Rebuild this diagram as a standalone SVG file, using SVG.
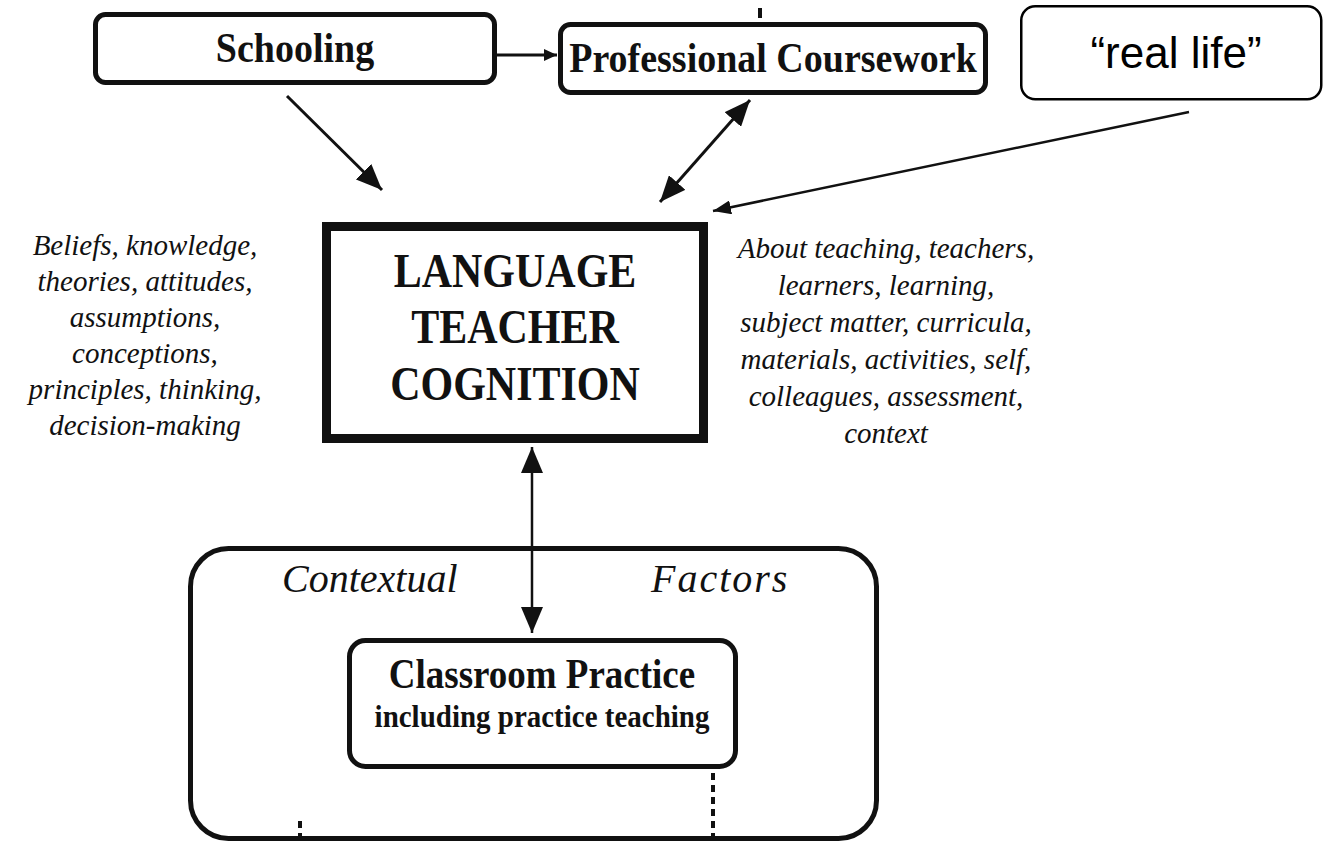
<svg xmlns="http://www.w3.org/2000/svg" width="1324" height="845" viewBox="0 0 1324 845">
<style>
.box{fill:#fff;stroke:#111;stroke-width:5}
.frame{fill:none;stroke:#111;stroke-width:5}
.bt{font-family:"Liberation Serif","Times New Roman",serif;font-weight:bold;fill:#111;text-anchor:middle}
.it{font-family:"Liberation Serif","Times New Roman",serif;font-style:italic;fill:#111;font-size:29px;text-anchor:middle}
.ln{stroke:#111;stroke-width:3;fill:none}
</style>
<defs>
<marker id="big" markerUnits="userSpaceOnUse" markerWidth="26" markerHeight="22" refX="26" refY="11" orient="auto-start-reverse" viewBox="0 0 26 22">
<path d="M0,0 L26,11 L0,22 z" fill="#111"/>
</marker>
<marker id="mid" markerUnits="userSpaceOnUse" markerWidth="18" markerHeight="14" refX="18" refY="7" orient="auto-start-reverse" viewBox="0 0 18 14">
<path d="M0,0 L18,7 L0,14 z" fill="#111"/>
</marker>
<marker id="sm" markerUnits="userSpaceOnUse" markerWidth="13" markerHeight="12" refX="13" refY="6" orient="auto" viewBox="0 0 13 12">
<path d="M0,0 L13,6 L0,12 z" fill="#111"/>
</marker>
</defs>
<rect width="1324" height="845" fill="#fff"/>

<g id="schooling">
<rect class="box" x="95.5" y="14.5" width="399" height="68" rx="10"/>
<text class="bt" font-size="38" transform="translate(295,62) scale(1,1.12)">Schooling</text>
</g>

<g id="professional-coursework">
<rect class="box" x="560.5" y="24.5" width="425" height="68" rx="10"/>
<text class="bt" font-size="38" transform="translate(773,72) scale(1,1.12)">Professional Coursework</text>
<line x1="760" y1="8" x2="760" y2="18" stroke="#111" stroke-width="4"/>
</g>

<g id="real-life">
<rect x="1021.25" y="6.25" width="300" height="93" rx="14" fill="#fff" stroke="#000" stroke-width="2.5"/>
<text x="1176" y="68" font-family="'Liberation Sans',Arial,sans-serif" font-size="44" text-anchor="middle" fill="#000">“real life”</text>
</g>

<g id="language-teacher-cognition">
<rect x="326.5" y="226.5" width="377" height="212" fill="#fff" stroke="#111" stroke-width="9"/>
<text class="bt" font-size="42" transform="translate(515,287) scale(1,1.18)">LANGUAGE</text>
<text class="bt" font-size="42" transform="translate(515,343) scale(1,1.18)">TEACHER</text>
<text class="bt" font-size="42" transform="translate(515,400) scale(1,1.18)">COGNITION</text>
</g>

<g id="left-labels">
<text class="it" x="145" y="255">Beliefs, knowledge,</text>
<text class="it" x="145" y="291">theories, attitudes,</text>
<text class="it" x="145" y="327">assumptions,</text>
<text class="it" x="145" y="363">conceptions,</text>
<text class="it" x="145" y="399">principles, thinking,</text>
<text class="it" x="145" y="435">decision-making</text>
</g>

<g id="right-labels">
<text class="it" x="886" y="258">About teaching, teachers,</text>
<text class="it" x="886" y="295">learners,  learning,</text>
<text class="it" x="886" y="332">subject matter, curricula,</text>
<text class="it" x="886" y="369">materials, activities, self,</text>
<text class="it" x="886" y="406">colleagues, assessment,</text>
<text class="it" x="886" y="443">context</text>
</g>

<g id="contextual-factors">
<rect class="frame" x="190.5" y="548.5" width="686" height="290" rx="38"/>
<text x="282" y="592" font-family="'Liberation Serif','Times New Roman',serif" font-style="italic" font-size="40" fill="#111">Contextual</text>
<text x="651" y="592" font-family="'Liberation Serif','Times New Roman',serif" font-style="italic" font-size="40" letter-spacing="2" fill="#111">Factors</text>
<line x1="713" y1="773" x2="713" y2="838" stroke="#111" stroke-width="4" stroke-dasharray="7 5"/>
<line x1="300" y1="821" x2="300" y2="838" stroke="#111" stroke-width="4" stroke-dasharray="7 5"/>
</g>

<g id="classroom-practice">
<rect class="box" x="349.5" y="640.5" width="386" height="126" rx="16"/>
<text class="bt" font-size="37" transform="translate(542,688) scale(1,1.12)">Classroom Practice</text>
<text class="bt" font-size="29" transform="translate(542,727) scale(1,1.12)">including practice teaching</text>
</g>

<g id="connectors">
<line class="ln" x1="497" y1="55" x2="557" y2="55" marker-end="url(#sm)"/>
<line class="ln" x1="287" y1="96" x2="382" y2="190" marker-end="url(#big)"/>
<line class="ln" x1="750" y1="100" x2="660" y2="202" marker-start="url(#big)" marker-end="url(#big)"/>
<line class="ln" style="stroke-width:2.5" x1="1189" y1="112" x2="713" y2="211" marker-end="url(#mid)"/>
<line class="ln" style="stroke-width:2.5" x1="532" y1="447" x2="532" y2="633" marker-start="url(#big)" marker-end="url(#big)"/>
</g>
</svg>
